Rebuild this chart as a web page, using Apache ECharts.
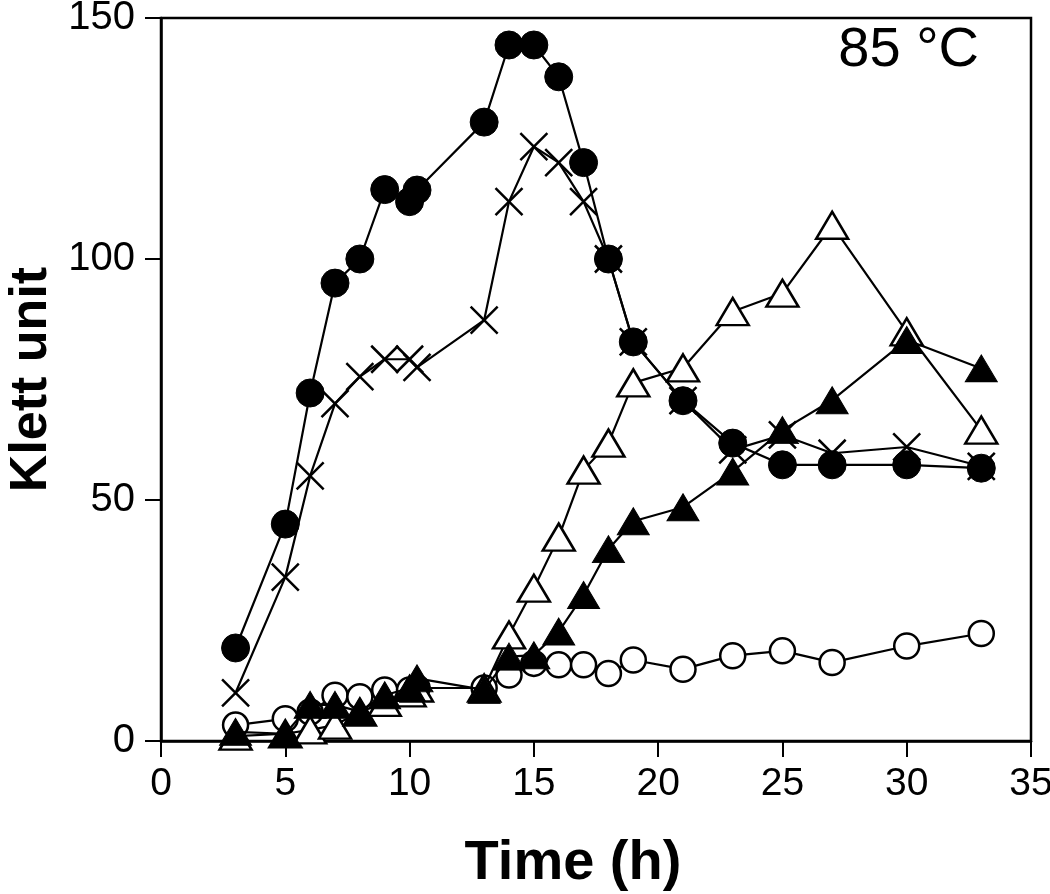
<!DOCTYPE html>
<html>
<head>
<meta charset="utf-8">
<script src="https://cdn.jsdelivr.net/npm/echarts@6/dist/echarts.min.js"></script>
<style>
html,body{margin:0;padding:0;background:#fff;}
#chart{width:1050px;height:894px;}
</style>
</head>
<body>
<div id="chart"></div>
<script>
// Sampling times (h)
var times = [3, 5, 6, 7, 8, 9, 10, 10.3, 13, 14, 15, 16, 17, 18, 19, 21, 23, 25, 27, 30, 33];
// Series values (Klett unit)
var filledCircle = [19.3, 45, 72.2, 95, 100, 114.4, 111.9, 114.3, 128.4, 144.4, 144.4, 137.8, 120, 100, 82.8, 70.6, 61.8, 57.3, 57.3, 57.3, 56.6];
var crossVals = [10, 34, 55, 70, 75.6, 79.2, 79.2, 77.5, 87.3, 111.9, 123.3, 120, 111.9, 100, 82.8, 70.6, 60.4, 63.5, 59.7, 61, 57];
var openTriangle = [1, 1.5, 2.3, 3.3, 6, 8, 10, 11, 11, 22, 31.7, 42.3, 56.2, 61.8, 74.3, 77.4, 89.1, 92.9, 107, 84.9, 64.5];
var filledTriangle = [1.9, 1.5, 7.5, 7.5, 6.1, 9.5, 11, 13, 10.6, 17.5, 17.8, 22.7, 30.3, 39.8, 45.6, 48.5, 55.9, 64.5, 70.7, 83.2, 77.3];
var openCircle = [3.3, 4.6, 6, 9.5, 9.2, 10.6, 10.6, 11, 11, 13.7, 16.1, 15.8, 15.8, 14, 16.8, 14.9, 17.7, 18.7, 16.3, 19.7, 22.3];
// Axis ticks
var xTicks = [0, 5, 10, 15, 20, 25, 30, 35];
var yTicks = [0, 50, 100, 150];
var annotation = '85 °C';

function pairs(vals) {
  return times.map(function (t, i) { return [t, vals[i]]; });
}

var chart = echarts.init(document.getElementById('chart'), null, {renderer: 'canvas'});
var crossPath = 'path://M0,0L10,10M10,0L0,10';
var lineStyle = {color: '#000', width: 2.2};

chart.setOption({
  animation: false,
  backgroundColor: '#fff',
  grid: {left: 161, right: 19, top: 18, bottom: 153, containLabel: false, outerBoundsMode: 'none', show: true, borderColor: '#000', borderWidth: 2.5, backgroundColor: 'transparent'},
  title: {
    text: annotation,
    right: 66, top: 18,
    textStyle: {fontFamily: 'Liberation Sans', fontWeight: 'normal', fontSize: 56, color: '#000'}
  },
  xAxis: {
    type: 'value',
    min: xTicks[0], max: xTicks[xTicks.length - 1], interval: 5,
    name: 'Time (h)', nameLocation: 'middle', nameGap: 95,
    nameTextStyle: {fontFamily: 'Liberation Sans', fontWeight: 'bold', fontSize: 56, color: '#000', padding: [0, 46, 0, 0]},
    axisLine: {lineStyle: {color: '#000', width: 2.5}},
    axisTick: {inside: false, length: 16, lineStyle: {color: '#000', width: 2}},
    axisLabel: {margin: 24, fontFamily: 'Liberation Sans', fontSize: 39, color: '#000'},
    splitLine: {show: false}
  },
  yAxis: {
    type: 'value',
    min: yTicks[0], max: yTicks[yTicks.length - 1], interval: 50,
    name: 'Klett unit', nameLocation: 'middle', nameGap: 100, nameRotate: 90,
    nameTextStyle: {fontFamily: 'Liberation Sans', fontWeight: 'bold', fontSize: 52, color: '#000'},
    axisLine: {lineStyle: {color: '#000', width: 2.5}},
    axisTick: {inside: false, length: 16, lineStyle: {color: '#000', width: 2}},
    axisLabel: {margin: 26, fontFamily: 'Liberation Sans', fontSize: 40, color: '#000'},
    splitLine: {show: false}
  },
  series: [
    {
      type: 'line', data: pairs(openCircle), z: 2,
      symbol: 'circle', symbolSize: 25,
      lineStyle: lineStyle,
      itemStyle: {color: '#fff', borderColor: '#000', borderWidth: 2.5}
    },
    {
      type: 'line', data: pairs(crossVals), z: 3,
      symbol: crossPath, symbolSize: 27,
      lineStyle: lineStyle,
      itemStyle: {color: '#000', borderColor: '#000', borderWidth: 2.5}
    },
    {
      type: 'line', data: pairs(openTriangle), z: 4,
      symbol: 'triangle', symbolSize: [32, 27],
      lineStyle: lineStyle,
      itemStyle: {color: '#fff', borderColor: '#000', borderWidth: 2.5}
    },
    {
      type: 'line', data: pairs(filledTriangle), z: 5,
      symbol: 'triangle', symbolSize: [32, 27],
      lineStyle: lineStyle,
      itemStyle: {color: '#000', borderColor: '#000', borderWidth: 1}
    },
    {
      type: 'line', data: pairs(filledCircle), z: 6,
      symbol: 'circle', symbolSize: 28,
      lineStyle: lineStyle,
      itemStyle: {color: '#000', borderColor: '#000', borderWidth: 1}
    }
  ]
});
</script>
</body>
</html>
